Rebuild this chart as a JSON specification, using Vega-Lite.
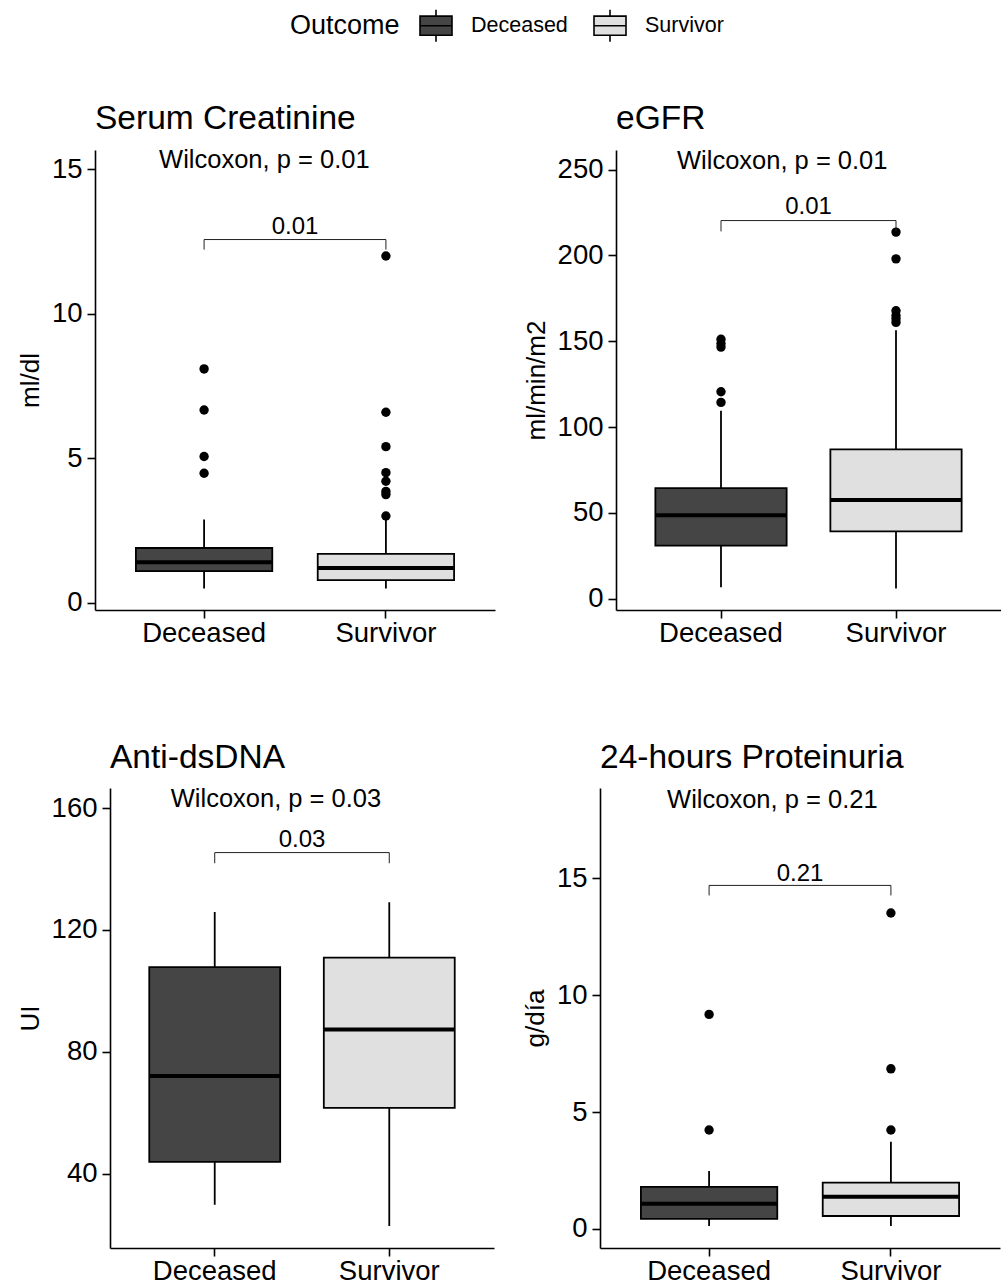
{
  "$schema": "https://vega.github.io/schema/vega-lite/v6.json",
  "background": "white",
  "padding": {"left": 16, "top": 8, "right": 0, "bottom": 0},
  "config": {
    "font": "Liberation Sans",
    "view": {"stroke": null},
    "axis": {"domainColor": "black", "domainWidth": 1.6, "tickColor": "black", "tickWidth": 1.6, "tickSize": 8, "labelColor": "black", "titleColor": "black", "titleFontSize": 26, "titleFontWeight": "normal", "grid": false},
    "axisX": {"labelPadding": 1, "labelFontSize": 27.5},
    "axisY": {"labelPadding": 5, "titlePadding": 8, "labelFontSize": 27.5},
    "title": {"fontSize": 33.5, "fontWeight": "normal", "anchor": "start", "frame": "group", "offset": 12, "baseline": "alphabetic", "color": "black"},
    "legend": {"orient": "none", "legendX": 274, "legendY": -141.7, "direction": "horizontal", "titleOrient": "left", "titleAnchor": "middle", "titleBaseline": "middle", "titleFontSize": 27, "titleFontWeight": "normal", "titleColor": "black", "titlePadding": 19, "labelFontSize": 21.5, "labelColor": "black", "labelOffset": 18, "columnPadding": 22, "symbolType": "M-1,-0.6H1V0.6H-1Z M-1,0H1 M0,-0.6V-1 M0,0.6V1", "symbolSize": 1024, "symbolStrokeColor": "black", "symbolStrokeWidth": 1.6, "symbolOpacity": 1}
  },
  "datasets": {
    "stats": [
      {"panel": "Serum Creatinine", "Outcome": "Deceased", "lower": 0.49, "q1": 1.09, "median": 1.40, "q3": 1.89, "upper": 2.88},
      {"panel": "Serum Creatinine", "Outcome": "Survivor", "lower": 0.49, "q1": 0.78, "median": 1.20, "q3": 1.69, "upper": 2.95},
      {"panel": "eGFR", "Outcome": "Deceased", "lower": 6.7, "q1": 31.0, "median": 48.7, "q3": 64.5, "upper": 109.6},
      {"panel": "eGFR", "Outcome": "Survivor", "lower": 6.0, "q1": 39.3, "median": 57.6, "q3": 87.1, "upper": 156.4},
      {"panel": "Anti-dsDNA", "Outcome": "Deceased", "lower": 29.8, "q1": 43.9, "median": 72.1, "q3": 107.8, "upper": 125.9},
      {"panel": "Anti-dsDNA", "Outcome": "Survivor", "lower": 22.8, "q1": 61.6, "median": 87.3, "q3": 110.9, "upper": 129.1},
      {"panel": "24-hours Proteinuria", "Outcome": "Deceased", "lower": 0.12, "q1": 0.43, "median": 1.07, "q3": 1.80, "upper": 2.48},
      {"panel": "24-hours Proteinuria", "Outcome": "Survivor", "lower": 0.12, "q1": 0.55, "median": 1.37, "q3": 1.98, "upper": 3.73}
    ],
    "outliers": [
      {"panel": "Serum Creatinine", "Outcome": "Deceased", "value": 8.09},
      {"panel": "Serum Creatinine", "Outcome": "Deceased", "value": 6.67},
      {"panel": "Serum Creatinine", "Outcome": "Deceased", "value": 5.06},
      {"panel": "Serum Creatinine", "Outcome": "Deceased", "value": 4.48},
      {"panel": "Serum Creatinine", "Outcome": "Survivor", "value": 12.0},
      {"panel": "Serum Creatinine", "Outcome": "Survivor", "value": 6.59},
      {"panel": "Serum Creatinine", "Outcome": "Survivor", "value": 5.4},
      {"panel": "Serum Creatinine", "Outcome": "Survivor", "value": 4.5},
      {"panel": "Serum Creatinine", "Outcome": "Survivor", "value": 4.2},
      {"panel": "Serum Creatinine", "Outcome": "Survivor", "value": 3.85},
      {"panel": "Serum Creatinine", "Outcome": "Survivor", "value": 3.74},
      {"panel": "Serum Creatinine", "Outcome": "Survivor", "value": 3.0},
      {"panel": "eGFR", "Outcome": "Deceased", "value": 151.2},
      {"panel": "eGFR", "Outcome": "Deceased", "value": 148.7},
      {"panel": "eGFR", "Outcome": "Deceased", "value": 146.6},
      {"panel": "eGFR", "Outcome": "Deceased", "value": 120.6},
      {"panel": "eGFR", "Outcome": "Deceased", "value": 114.4},
      {"panel": "eGFR", "Outcome": "Survivor", "value": 213.6},
      {"panel": "eGFR", "Outcome": "Survivor", "value": 198.0},
      {"panel": "eGFR", "Outcome": "Survivor", "value": 167.8},
      {"panel": "eGFR", "Outcome": "Survivor", "value": 165.0},
      {"panel": "eGFR", "Outcome": "Survivor", "value": 163.1},
      {"panel": "eGFR", "Outcome": "Survivor", "value": 161.0},
      {"panel": "24-hours Proteinuria", "Outcome": "Deceased", "value": 9.18},
      {"panel": "24-hours Proteinuria", "Outcome": "Deceased", "value": 4.23},
      {"panel": "24-hours Proteinuria", "Outcome": "Survivor", "value": 13.52},
      {"panel": "24-hours Proteinuria", "Outcome": "Survivor", "value": 6.85},
      {"panel": "24-hours Proteinuria", "Outcome": "Survivor", "value": 4.23}
    ],
    "tests": [
      {"panel": "Serum Creatinine", "test": "Wilcoxon, p = 0.01", "p": "0.01"},
      {"panel": "eGFR", "test": "Wilcoxon, p = 0.01", "p": "0.01"},
      {"panel": "Anti-dsDNA", "test": "Wilcoxon, p = 0.03", "p": "0.03"},
      {"panel": "24-hours Proteinuria", "test": "Wilcoxon, p = 0.21", "p": "0.21"}
    ]
  },
  "spacing": 93,
  "vconcat": [
    {
      "spacing": 0,
      "hconcat": [
        {"width": 1, "height": 460, "data": {"values": []}, "mark": {"type": "point", "opacity": 0}},
        {
          "spacing": 28,
          "hconcat": [
            {
              "width": 400, "height": 460,
              "title": {"text": "Serum Creatinine"},
              "layer": [
                {"data": {"name": "stats"}, "transform": [{"filter": "datum.panel === 'Serum Creatinine'"}],
                 "mark": {"type": "rule", "color": "black", "strokeWidth": 1.8},
                 "encoding": {
                   "x": {"field": "Outcome", "type": "nominal", "scale": {"type": "band", "domain": ["Deceased", "Survivor"], "paddingInner": 0.25, "paddingOuter": 0.225}, "axis": {"title": null, "labelAngle": 0}},
                   "y": {"field": "lower", "type": "quantitative", "scale": {"domain": [-0.256, 15.67], "nice": false, "zero": false}, "axis": {"values": [0, 5, 10, 15], "title": "ml/dl"}},
                   "y2": {"field": "upper"}}},
                {"data": {"name": "stats"}, "transform": [{"filter": "datum.panel === 'Serum Creatinine'"}],
                 "mark": {"type": "bar", "stroke": "black", "strokeWidth": 1.8},
                 "encoding": {
                   "x": {"field": "Outcome", "type": "nominal"},
                   "y": {"field": "q1", "type": "quantitative"},
                   "y2": {"field": "q3"},
                   "fill": {"field": "Outcome", "type": "nominal", "scale": {"domain": ["Deceased", "Survivor"], "range": ["#454545", "#e0e0e0"]}}}},
                {"data": {"name": "stats"}, "transform": [{"filter": "datum.panel === 'Serum Creatinine'"}],
                 "mark": {"type": "tick", "color": "black", "size": 136, "thickness": 4, "opacity": 1},
                 "encoding": {
                   "x": {"field": "Outcome", "type": "nominal"},
                   "y": {"field": "median", "type": "quantitative"}}},
                {"data": {"name": "outliers"}, "transform": [{"filter": "datum.panel === 'Serum Creatinine'"}],
                 "mark": {"type": "circle", "color": "black", "size": 88, "opacity": 1},
                 "encoding": {
                   "x": {"field": "Outcome", "type": "nominal"},
                   "y": {"field": "value", "type": "quantitative"}}},
                {"data": {"name": "tests"}, "transform": [{"filter": "datum.panel === 'Serum Creatinine'"}],
                 "mark": {"type": "rule", "color": "#222222", "strokeWidth": 1},
                 "encoding": {
                   "x": {"datum": "Deceased", "type": "nominal"},
                   "x2": {"datum": "Survivor"},
                   "y": {"datum": 12.57, "type": "quantitative"}}},
                {"data": {"name": "tests"}, "transform": [{"filter": "datum.panel === 'Serum Creatinine'"}],
                 "mark": {"type": "rule", "color": "#222222", "strokeWidth": 1},
                 "encoding": {
                   "x": {"datum": "Deceased", "type": "nominal"},
                   "y": {"datum": 12.57, "type": "quantitative"},
                   "y2": {"datum": 12.22}}},
                {"data": {"name": "tests"}, "transform": [{"filter": "datum.panel === 'Serum Creatinine'"}],
                 "mark": {"type": "rule", "color": "#222222", "strokeWidth": 1},
                 "encoding": {
                   "x": {"datum": "Survivor", "type": "nominal"},
                   "y": {"datum": 12.57, "type": "quantitative"},
                   "y2": {"datum": 12.22}}},
                {"data": {"name": "tests"}, "transform": [{"filter": "datum.panel === 'Serum Creatinine'"}],
                 "mark": {"type": "text", "fontSize": 24, "align": "center", "baseline": "middle", "color": "black", "dx": 91},
                 "encoding": {
                   "x": {"datum": "Deceased", "type": "nominal"},
                   "y": {"datum": 13.02, "type": "quantitative"},
                   "text": {"field": "p"}}},
                {"data": {"name": "tests"}, "transform": [{"filter": "datum.panel === 'Serum Creatinine'"}],
                 "mark": {"type": "text", "fontSize": 25.5, "align": "left", "baseline": "middle", "color": "black", "dx": -45},
                 "encoding": {
                   "x": {"datum": "Deceased", "type": "nominal"},
                   "y": {"datum": 15.31, "type": "quantitative"},
                   "text": {"field": "test"}}}
              ]
            },
            {
              "width": 385, "height": 460,
              "title": {"text": "eGFR"},
              "layer": [
                {"data": {"name": "stats"}, "transform": [{"filter": "datum.panel === 'eGFR'"}],
                 "mark": {"type": "rule", "color": "black", "strokeWidth": 1.8},
                 "encoding": {
                   "x": {"field": "Outcome", "type": "nominal", "scale": {"type": "band", "domain": ["Deceased", "Survivor"], "paddingInner": 0.25, "paddingOuter": 0.225}, "axis": {"title": null, "labelAngle": 0}},
                   "y": {"field": "lower", "type": "quantitative", "scale": {"domain": [-6.5, 261.4], "nice": false, "zero": false}, "axis": {"values": [0, 50, 100, 150, 200, 250], "title": "ml/min/m2"}},
                   "y2": {"field": "upper"}}},
                {"data": {"name": "stats"}, "transform": [{"filter": "datum.panel === 'eGFR'"}],
                 "mark": {"type": "bar", "stroke": "black", "strokeWidth": 1.8},
                 "encoding": {
                   "x": {"field": "Outcome", "type": "nominal"},
                   "y": {"field": "q1", "type": "quantitative"},
                   "y2": {"field": "q3"},
                   "fill": {"field": "Outcome", "type": "nominal", "scale": {"domain": ["Deceased", "Survivor"], "range": ["#454545", "#e0e0e0"]}}}},
                {"data": {"name": "stats"}, "transform": [{"filter": "datum.panel === 'eGFR'"}],
                 "mark": {"type": "tick", "color": "black", "size": 131, "thickness": 4, "opacity": 1},
                 "encoding": {
                   "x": {"field": "Outcome", "type": "nominal"},
                   "y": {"field": "median", "type": "quantitative"}}},
                {"data": {"name": "outliers"}, "transform": [{"filter": "datum.panel === 'eGFR'"}],
                 "mark": {"type": "circle", "color": "black", "size": 88, "opacity": 1},
                 "encoding": {
                   "x": {"field": "Outcome", "type": "nominal"},
                   "y": {"field": "value", "type": "quantitative"}}},
                {"data": {"name": "tests"}, "transform": [{"filter": "datum.panel === 'eGFR'"}],
                 "mark": {"type": "rule", "color": "#222222", "strokeWidth": 1},
                 "encoding": {
                   "x": {"datum": "Deceased", "type": "nominal"},
                   "x2": {"datum": "Survivor"},
                   "y": {"datum": 220.3, "type": "quantitative"}}},
                {"data": {"name": "tests"}, "transform": [{"filter": "datum.panel === 'eGFR'"}],
                 "mark": {"type": "rule", "color": "#222222", "strokeWidth": 1},
                 "encoding": {
                   "x": {"datum": "Deceased", "type": "nominal"},
                   "y": {"datum": 220.3, "type": "quantitative"},
                   "y2": {"datum": 214.0}}},
                {"data": {"name": "tests"}, "transform": [{"filter": "datum.panel === 'eGFR'"}],
                 "mark": {"type": "rule", "color": "#222222", "strokeWidth": 1},
                 "encoding": {
                   "x": {"datum": "Survivor", "type": "nominal"},
                   "y": {"datum": 220.3, "type": "quantitative"},
                   "y2": {"datum": 214.0}}},
                {"data": {"name": "tests"}, "transform": [{"filter": "datum.panel === 'eGFR'"}],
                 "mark": {"type": "text", "fontSize": 24, "align": "center", "baseline": "middle", "color": "black", "dx": 87.5},
                 "encoding": {
                   "x": {"datum": "Deceased", "type": "nominal"},
                   "y": {"datum": 228.2, "type": "quantitative"},
                   "text": {"field": "p"}}},
                {"data": {"name": "tests"}, "transform": [{"filter": "datum.panel === 'eGFR'"}],
                 "mark": {"type": "text", "fontSize": 25.5, "align": "left", "baseline": "middle", "color": "black", "dx": -44},
                 "encoding": {
                   "x": {"datum": "Deceased", "type": "nominal"},
                   "y": {"datum": 255.2, "type": "quantitative"},
                   "text": {"field": "test"}}}
              ]
            }
          ]
        }
      ]
    },
    {
      "spacing": 0,
      "hconcat": [
        {"width": 1, "height": 460, "data": {"values": []}, "mark": {"type": "point", "opacity": 0}},
        {
          "spacing": 28,
          "hconcat": [
            {
              "width": 384, "height": 460,
              "title": {"text": "Anti-dsDNA"},
              "layer": [
                {"data": {"name": "stats"}, "transform": [{"filter": "datum.panel === 'Anti-dsDNA'"}],
                 "mark": {"type": "rule", "color": "black", "strokeWidth": 1.8},
                 "encoding": {
                   "x": {"field": "Outcome", "type": "nominal", "scale": {"type": "band", "domain": ["Deceased", "Survivor"], "paddingInner": 0.25, "paddingOuter": 0.225}, "axis": {"title": null, "labelAngle": 0}},
                   "y": {"field": "lower", "type": "quantitative", "scale": {"domain": [15.6, 166.6], "nice": false, "zero": false}, "axis": {"values": [40, 80, 120, 160], "title": "UI"}},
                   "y2": {"field": "upper"}}},
                {"data": {"name": "stats"}, "transform": [{"filter": "datum.panel === 'Anti-dsDNA'"}],
                 "mark": {"type": "bar", "stroke": "black", "strokeWidth": 1.8},
                 "encoding": {
                   "x": {"field": "Outcome", "type": "nominal"},
                   "y": {"field": "q1", "type": "quantitative"},
                   "y2": {"field": "q3"},
                   "fill": {"field": "Outcome", "type": "nominal", "scale": {"domain": ["Deceased", "Survivor"], "range": ["#454545", "#e0e0e0"]}}}},
                {"data": {"name": "stats"}, "transform": [{"filter": "datum.panel === 'Anti-dsDNA'"}],
                 "mark": {"type": "tick", "color": "black", "size": 131, "thickness": 4, "opacity": 1},
                 "encoding": {
                   "x": {"field": "Outcome", "type": "nominal"},
                   "y": {"field": "median", "type": "quantitative"}}},
                {"data": {"name": "tests"}, "transform": [{"filter": "datum.panel === 'Anti-dsDNA'"}],
                 "mark": {"type": "rule", "color": "#222222", "strokeWidth": 1},
                 "encoding": {
                   "x": {"datum": "Deceased", "type": "nominal"},
                   "x2": {"datum": "Survivor"},
                   "y": {"datum": 145.4, "type": "quantitative"}}},
                {"data": {"name": "tests"}, "transform": [{"filter": "datum.panel === 'Anti-dsDNA'"}],
                 "mark": {"type": "rule", "color": "#222222", "strokeWidth": 1},
                 "encoding": {
                   "x": {"datum": "Deceased", "type": "nominal"},
                   "y": {"datum": 145.4, "type": "quantitative"},
                   "y2": {"datum": 141.9}}},
                {"data": {"name": "tests"}, "transform": [{"filter": "datum.panel === 'Anti-dsDNA'"}],
                 "mark": {"type": "rule", "color": "#222222", "strokeWidth": 1},
                 "encoding": {
                   "x": {"datum": "Survivor", "type": "nominal"},
                   "y": {"datum": 145.4, "type": "quantitative"},
                   "y2": {"datum": 141.9}}},
                {"data": {"name": "tests"}, "transform": [{"filter": "datum.panel === 'Anti-dsDNA'"}],
                 "mark": {"type": "text", "fontSize": 24, "align": "center", "baseline": "middle", "color": "black", "dx": 87.3},
                 "encoding": {
                   "x": {"datum": "Deceased", "type": "nominal"},
                   "y": {"datum": 149.5, "type": "quantitative"},
                   "text": {"field": "p"}}},
                {"data": {"name": "tests"}, "transform": [{"filter": "datum.panel === 'Anti-dsDNA'"}],
                 "mark": {"type": "text", "fontSize": 25.5, "align": "left", "baseline": "middle", "color": "black", "dx": -44},
                 "encoding": {
                   "x": {"datum": "Deceased", "type": "nominal"},
                   "y": {"datum": 162.9, "type": "quantitative"},
                   "text": {"field": "test"}}}
              ]
            },
            {
              "width": 400, "height": 460,
              "title": {"text": "24-hours Proteinuria"},
              "layer": [
                {"data": {"name": "stats"}, "transform": [{"filter": "datum.panel === '24-hours Proteinuria'"}],
                 "mark": {"type": "rule", "color": "black", "strokeWidth": 1.8},
                 "encoding": {
                   "x": {"field": "Outcome", "type": "nominal", "scale": {"type": "band", "domain": ["Deceased", "Survivor"], "paddingInner": 0.25, "paddingOuter": 0.225}, "axis": {"title": null, "labelAngle": 0}},
                   "y": {"field": "lower", "type": "quantitative", "scale": {"domain": [-0.82, 18.87], "nice": false, "zero": false}, "axis": {"values": [0, 5, 10, 15], "title": "g/día"}},
                   "y2": {"field": "upper"}}},
                {"data": {"name": "stats"}, "transform": [{"filter": "datum.panel === '24-hours Proteinuria'"}],
                 "mark": {"type": "bar", "stroke": "black", "strokeWidth": 1.8},
                 "encoding": {
                   "x": {"field": "Outcome", "type": "nominal"},
                   "y": {"field": "q1", "type": "quantitative"},
                   "y2": {"field": "q3"},
                   "fill": {"field": "Outcome", "type": "nominal", "scale": {"domain": ["Deceased", "Survivor"], "range": ["#454545", "#e0e0e0"]}}}},
                {"data": {"name": "stats"}, "transform": [{"filter": "datum.panel === '24-hours Proteinuria'"}],
                 "mark": {"type": "tick", "color": "black", "size": 136, "thickness": 4, "opacity": 1},
                 "encoding": {
                   "x": {"field": "Outcome", "type": "nominal"},
                   "y": {"field": "median", "type": "quantitative"}}},
                {"data": {"name": "outliers"}, "transform": [{"filter": "datum.panel === '24-hours Proteinuria'"}],
                 "mark": {"type": "circle", "color": "black", "size": 88, "opacity": 1},
                 "encoding": {
                   "x": {"field": "Outcome", "type": "nominal"},
                   "y": {"field": "value", "type": "quantitative"}}},
                {"data": {"name": "tests"}, "transform": [{"filter": "datum.panel === '24-hours Proteinuria'"}],
                 "mark": {"type": "rule", "color": "#222222", "strokeWidth": 1},
                 "encoding": {
                   "x": {"datum": "Deceased", "type": "nominal"},
                   "x2": {"datum": "Survivor"},
                   "y": {"datum": 14.7, "type": "quantitative"}}},
                {"data": {"name": "tests"}, "transform": [{"filter": "datum.panel === '24-hours Proteinuria'"}],
                 "mark": {"type": "rule", "color": "#222222", "strokeWidth": 1},
                 "encoding": {
                   "x": {"datum": "Deceased", "type": "nominal"},
                   "y": {"datum": 14.7, "type": "quantitative"},
                   "y2": {"datum": 14.27}}},
                {"data": {"name": "tests"}, "transform": [{"filter": "datum.panel === '24-hours Proteinuria'"}],
                 "mark": {"type": "rule", "color": "#222222", "strokeWidth": 1},
                 "encoding": {
                   "x": {"datum": "Survivor", "type": "nominal"},
                   "y": {"datum": 14.7, "type": "quantitative"},
                   "y2": {"datum": 14.27}}},
                {"data": {"name": "tests"}, "transform": [{"filter": "datum.panel === '24-hours Proteinuria'"}],
                 "mark": {"type": "text", "fontSize": 24, "align": "center", "baseline": "middle", "color": "black", "dx": 91},
                 "encoding": {
                   "x": {"datum": "Deceased", "type": "nominal"},
                   "y": {"datum": 15.21, "type": "quantitative"},
                   "text": {"field": "p"}}},
                {"data": {"name": "tests"}, "transform": [{"filter": "datum.panel === '24-hours Proteinuria'"}],
                 "mark": {"type": "text", "fontSize": 25.5, "align": "left", "baseline": "middle", "color": "black", "dx": -42},
                 "encoding": {
                   "x": {"datum": "Deceased", "type": "nominal"},
                   "y": {"datum": 18.36, "type": "quantitative"},
                   "text": {"field": "test"}}}
              ]
            }
          ]
        }
      ]
    }
  ]
}
